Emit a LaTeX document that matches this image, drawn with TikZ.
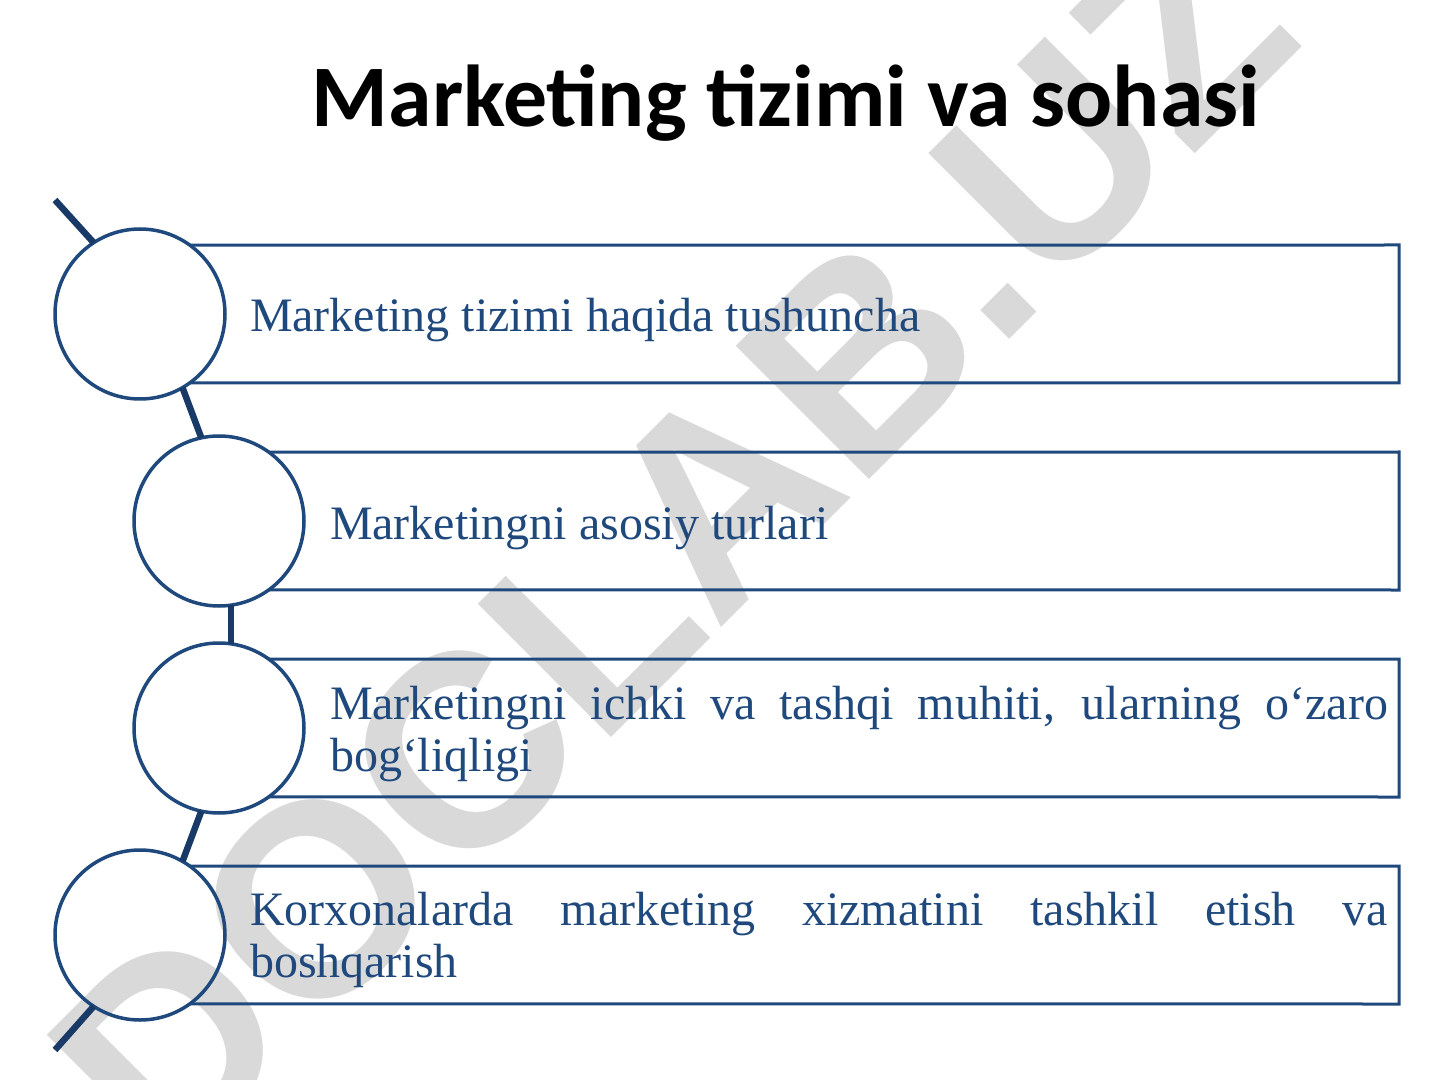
\documentclass[tikz,border=0pt]{standalone}
\usepackage{fontspec}
\setmainfont{Liberation Serif}
\newfontfamily\titlefont{Carlito}
\newfontfamily\wmfont{Liberation Sans}
\definecolor{lineblue}{RGB}{31,73,125}
\definecolor{arcblue}{RGB}{25,58,102}
\definecolor{wmgray}{RGB}{217,217,217}
\begin{document}
\hyphenpenalty=10000
\exhyphenpenalty=10000
\tolerance=9999
\begin{tikzpicture}[x=0.5pt,y=-0.5pt,
  circ/.style={circle, draw=lineblue, line width=1.75pt, minimum size=85pt, inner sep=0pt, outer sep=0pt},
  boxarea/.style={rectangle, minimum height=69pt, inner sep=0pt, outer sep=0pt},
  boxline/.style={draw=lineblue, line width=1.5pt},
  link/.style={draw=arcblue, line width=3.25pt},
  itemtext/.style={text=lineblue, font=\fontsize{24}{26}\selectfont, inner sep=0pt, outer sep=0pt, anchor=base west},
  wmtext/.style={rotate=45, anchor=base, text=wmgray, inner sep=0pt, font=\wmfont\bfseries\fontsize{137}{137}\selectfont},
  titletext/.style={anchor=base, inner sep=0pt, text=black, font=\titlefont\bfseries\fontsize{43.9}{50}\selectfont}]
\useasboundingbox (0,0) rectangle (1440,1080);

% watermark
\node[wmtext] (wm) at (738,611) {DOCLAB.UZ};

% title
\node[titletext] (title) at (786,127) {Marketing tizimi va sohasi};

% circles
\node[circ] (c1) at (140,314) {};
\node[circ] (c2) at (219,521) {};
\node[circ] (c3) at (219,728) {};
\node[circ] (c4) at (140,935) {};

% box areas
\node[boxarea, minimum width=629.5pt] (b1) at (769.5,314) {};
\node[boxarea, minimum width=590pt] (b2) at (809,521) {};
\node[boxarea, minimum width=590pt] (b3) at (809,728) {};
\node[boxarea, minimum width=629.5pt] (b4) at (769.5,935) {};

% box outlines
\draw[boxline] (c1.54.3) -- (b1.north east) -- (b1.south east) -- (c1.-54.3);
\draw[boxline] (c2.54.3) -- (b2.north east) -- (b2.south east) -- (c2.-54.3);
\draw[boxline] (c3.54.3) -- (b3.north east) -- (b3.south east) -- (c3.-54.3);
\draw[boxline] (c4.54.3) -- (b4.north east) -- (b4.south east) -- (c4.-54.3);

% arc connectors
\coordinate (topend) at (55,200);
\coordinate (botend) at (55,1050);
\draw[link] (topend) -- (c1.123.2);
\draw[link] (c1.-60.8) -- (c2.102.8);
\draw[link] (c2.-82.9) -- (c3.82.9);
\draw[link] (c3.-102.8) -- (c4.60.8);
\draw[link] (c4.-123.2) -- (botend);

% texts
\node[itemtext] (t1) at (250,332) {Marketing tizimi haqida tushuncha};
\node[itemtext] (t2) at (330,539) {Marketingni asosiy turlari};
\node[itemtext, text width=529pt, align=justify] (t3) at (330,719) {Marketingni ichki va tashqi muhiti, ularning o‘zaro bog‘liqligi};
\node[itemtext, text width=569pt, align=justify] (t4) at (250,925) {Korxonalarda marketing xizmatini tashkil etish va boshqarish};
\end{tikzpicture}
\end{document}
